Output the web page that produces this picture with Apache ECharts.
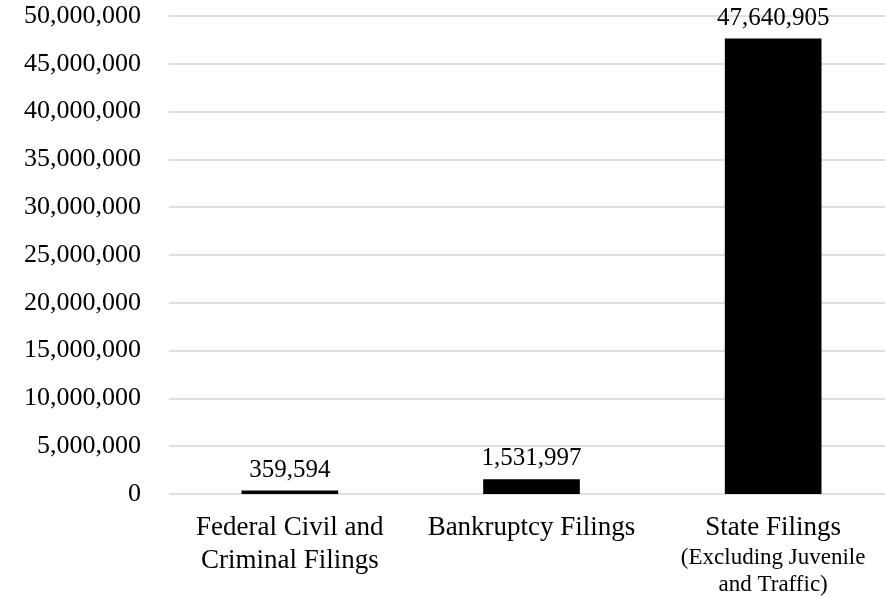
<!DOCTYPE html>
<html><head><meta charset="utf-8">
<script src="https://cdn.jsdelivr.net/npm/echarts@6/dist/echarts.min.js"></script>
<style>html,body{margin:0;padding:0;background:#fff;overflow:hidden}#c{width:894px;height:598px}</style>
</head><body><div id="c"></div>
<script>
const categories = ['Federal Civil and\nCriminal Filings', 'Bankruptcy Filings', 'State Filings'];
const categoryNotes = ['', '', '(Excluding Juvenile\nand Traffic)'];
const values = [359594, 1531997, 47640905];

const chart = echarts.init(document.getElementById('c'));
const font = '"Liberation Serif", "DejaVu Serif", serif';
chart.setOption({
  animation: false,
  grid: { left: 169, right: 0, top: 16, bottom: 104, containLabel: false },
  xAxis: {
    type: 'category',
    data: categories,
    axisLine: { show: false },
    axisTick: { show: false },
    axisLabel: {
      margin: 17,
      interval: 0,
      color: '#000',
      fontFamily: font,
      fontSize: 27,
      lineHeight: 32,
      formatter: function (v, i) {
        const note = categoryNotes[i];
        return note ? '{a|' + v + '}\n{b|' + note.split('\n').join('}\n{b|') + '}' : '{a|' + v.split('\n').join('}\n{a|') + '}';
      },
      rich: {
        a: { fontFamily: font, fontSize: 27, lineHeight: 33, color: '#000' },
        b: { fontFamily: font, fontSize: 23, lineHeight: 27, color: '#000' }
      }
    }
  },
  yAxis: {
    type: 'value',
    min: 0,
    max: 50000000,
    interval: 5000000,
    axisLine: { show: false },
    axisTick: { show: false },
    splitLine: { lineStyle: { color: '#d4d4d4', width: 1.5 } },
    axisLabel: {
      margin: 28,
      color: '#000',
      fontFamily: font,
      fontSize: 26,
      formatter: v => v.toLocaleString('en-US')
    }
  },
  series: [{
    type: 'bar',
    data: values,
    barWidth: '40%',
    itemStyle: { color: '#000' },
    label: {
      show: true,
      position: 'top',
      distance: 8,
      color: '#000',
      fontFamily: font,
      fontSize: 25,
      formatter: p => p.value.toLocaleString('en-US')
    }
  }]
});
</script></body></html>
